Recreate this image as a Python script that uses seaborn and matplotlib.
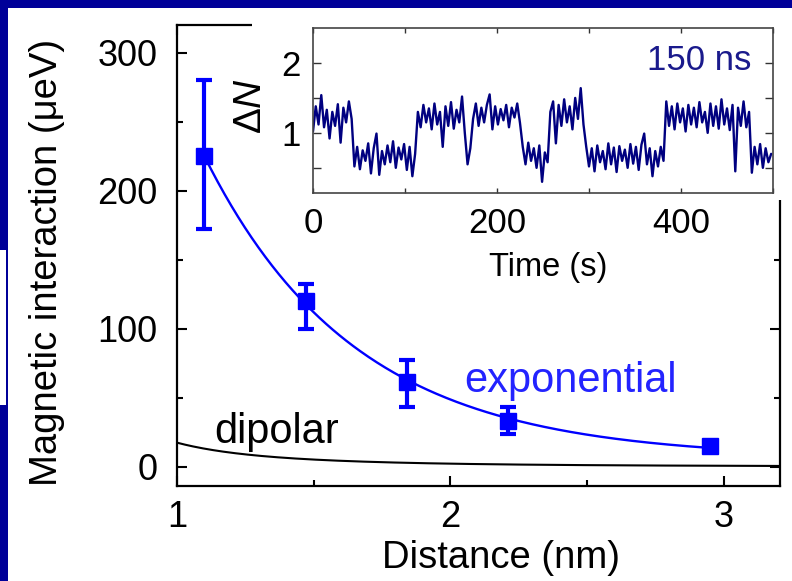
import numpy as np
import matplotlib
matplotlib.use("Agg")
import matplotlib.pyplot as plt
import seaborn as sns
from matplotlib.patches import Rectangle

# ---------------- data ----------------
distance_nm = [1.10, 1.47, 1.84, 2.21, 2.95]
interaction_ueV = [225, 120, 61, 33, 15]
err_low = [53, 20, 18, 9, 3]
err_high = [55, 12, 16, 10, 3]

# exponential fit parameters: y = A*exp(-(x-x0)/lam) + c
fit_A, fit_x0, fit_lam, fit_c = 219.0, 1.10, 0.55, 6.0
fit_range = (1.10, 2.95)
# dipolar curve: y = B / x^3
dip_B = 17.4
dip_range = (1.0, 3.2)

# inset telegraph trace (Delta N vs time, sampled every 3 s)
trace_step_s = 3
trace_dn = [
    # high 0-42
    1.02, 1.38, 1.12, 1.54, 1.08, 1.33, 0.92, 1.30, 1.10, 1.41, 0.86, 1.36, 1.15, 1.45, 1.20,
    # low 45-111
    0.52, 0.80, 0.48, 0.75, 0.60, 0.85, 0.42, 0.78, 0.99, 0.40, 0.74, 0.55, 0.82, 0.58, 0.88,
    0.50, 0.79, 0.62, 0.84, 0.47, 0.80, 0.38, 0.70,
    # high 114-165
    1.30, 1.08, 1.40, 1.15, 1.35, 1.05, 1.42, 1.12, 1.30, 0.80, 1.38, 1.10, 1.44, 1.06, 1.33,
    1.15, 1.52, 1.00,
    # low dip 168-171
    0.55, 0.78,
    # high 174-225
    1.20, 1.42, 1.10, 1.36, 1.15, 1.40, 1.55, 1.05, 1.38, 1.12, 1.34, 1.18, 1.40, 1.08, 1.36,
    1.22, 1.42, 1.14,
    # low 228-255
    0.80, 0.55, 0.86, 0.60, 0.78, 0.50, 0.82, 0.30, 0.72, 0.58,
    # high 258-294
    1.30, 1.45, 0.85, 1.40, 1.10, 1.48, 1.15, 1.38, 1.05, 1.50, 1.20, 1.64, 1.12,
    # low 297-381
    0.80, 0.52, 0.78, 0.45, 0.82, 0.58, 0.74, 0.48, 0.85, 0.55, 0.79, 0.44, 0.81, 0.60, 0.76,
    0.50, 0.84, 0.56, 0.80, 0.47, 0.83, 0.99, 0.55, 0.78, 0.38, 0.74, 0.52, 0.80, 0.60,
    # high 384-474
    1.45, 1.10, 1.38, 1.05, 1.42, 1.15, 1.35, 1.02, 1.40, 1.12, 1.36, 1.08, 1.44, 1.15, 1.30,
    1.00, 1.42, 1.10, 1.38, 1.06, 1.48, 1.12, 1.35, 1.04, 1.40, 0.45, 1.36, 1.10, 1.45, 1.08,
    1.30,
    # low 477-498
    0.43, 0.80, 0.55, 0.84, 0.50, 0.78, 0.58, 0.70,
]
trace_t = np.arange(len(trace_dn)) * trace_step_s

main_xticks = [1, 2, 3]
main_yticks = [0, 100, 200, 300]
inset_xticks = [0, 100, 200, 300, 400, 500]
inset_xlabels = ["0", "", "200", "", "400", ""]
inset_yticks = [0.5, 1.0, 1.5, 2.0]
inset_ylabels = ["", "1", "", "2"]

# ---------------- style ----------------
sns.set_theme(style="ticks")
plt.rcParams["font.family"] = ["Liberation Sans", "DejaVu Sans"]
plt.rcParams["mathtext.fontset"] = "custom"
plt.rcParams["mathtext.rm"] = "Liberation Sans"
plt.rcParams["mathtext.it"] = "Liberation Sans:italic"
plt.rcParams["text.color"] = "black"
plt.rcParams["axes.labelcolor"] = "black"
plt.rcParams["xtick.color"] = "black"
plt.rcParams["ytick.color"] = "black"

NAVY = "#000099"
BLUE = "#0000ff"
W, H = 792, 581

fig = plt.figure(figsize=(W / 100, H / 100), dpi=100)
fig.patch.set_facecolor("white")

# ---------------- main axes ----------------
ax = fig.add_axes([177 / W, 1 - 486 / H, (780 - 177) / W, (486 - 25) / H])
ax.set_facecolor("white")

fx = np.linspace(fit_range[0], fit_range[1], 300)
fy = fit_A * np.exp(-(fx - fit_x0) / fit_lam) + fit_c
sns.lineplot(x=fx, y=fy, color=BLUE, lw=1.7, ax=ax, zorder=2)

dx = np.linspace(dip_range[0], dip_range[1], 300)
dy = dip_B / dx ** 3
sns.lineplot(x=dx, y=dy, color="black", lw=1.5, ax=ax, zorder=2)

ax.errorbar(distance_nm, interaction_ueV, yerr=[err_low, err_high], fmt="s",
            color=BLUE, ms=11, elinewidth=3, capsize=6, capthick=3, zorder=3)

ax.set_xlim(1, 3.205)
ax.set_ylim(-14, 320)
ax.set_xticks(main_xticks)
ax.set_xticks([1.5, 2.5], minor=True)
ax.set_yticks(main_yticks)
ax.set_yticks([50, 150, 250], minor=True)
ax.tick_params(which="both", direction="in", top=True, right=True, width=1.5)
ax.tick_params(which="major", length=7)
ax.tick_params(which="minor", length=4.5)
ax.tick_params(axis="y", labelsize=26, pad=14)
ax.tick_params(axis="x", labelsize=26, pad=10)
for s in ax.spines.values():
    s.set_linewidth(1.6)
    s.set_color("black")

ax.set_xlabel("Distance (nm)", fontsize=27.5)
ax.set_ylabel("Magnetic interaction (μeV)", fontsize=27.5)
ax.xaxis.set_label_coords(0.538, -0.118)
ax.yaxis.set_label_coords(-0.186, 0.485)

ax.text(1.135, 17.4, "dipolar", fontsize=30, color="black", ha="left", va="baseline")
ax.text(2.05, 54, "exponential", fontsize=30, color="#2323ff", ha="left", va="baseline")

# white panel behind the inset (covers main frame)
fig.patches.append(Rectangle((252 / W, 1 - 200 / H), 1 - 252 / W, 200 / H,
                             transform=fig.transFigure, facecolor="white",
                             edgecolor="none", zorder=1))

# ---------------- inset ----------------
ax2 = fig.add_axes([313 / W, 1 - 193 / H, (773 - 313) / W, (193 - 28) / H], zorder=2)
ax2.set_facecolor("white")
sns.lineplot(x=trace_t, y=trace_dn, color="#000080", lw=1.7, ax=ax2, sort=False)
ax2.set_xlim(0, 500)
ax2.set_ylim(0.14, 2.5)
ax2.set_xticks(inset_xticks)
ax2.set_xticklabels(inset_xlabels)
ax2.set_yticks(inset_yticks)
ax2.set_yticklabels(inset_ylabels)
ax2.tick_params(which="both", direction="in", top=True, right=True, width=1.0,
                color="#333333")
ax2.tick_params(axis="x", length=3.5, labelsize=25, pad=10)
ax2.tick_params(axis="y", length=6, labelsize=25, pad=9)
for s in ax2.spines.values():
    s.set_linewidth(1.2)
    s.set_color("#444444")
ax2.set_xlabel("Time (s)", fontsize=23.5)
ax2.set_ylabel(r"$\Delta N$", fontsize=28)
ax2.xaxis.set_label_coords(0.511, -0.355)
ax2.yaxis.set_label_coords(-0.095, 0.53)
ax2.text(477, 1.9, "150 ns", fontsize=25, color="#1a1a8c", ha="right", va="baseline")

# ---------------- navy frame ----------------
fig.patches.append(Rectangle((0, 1 - 8 / H), 1, 8 / H, transform=fig.transFigure,
                             facecolor=NAVY, edgecolor="none", zorder=10))
fig.patches.append(Rectangle((0, 0), 8 / W, 1, transform=fig.transFigure,
                             facecolor=NAVY, edgecolor="none", zorder=10))
fig.patches.append(Rectangle((0, 1 - 405 / H), 6 / W, (405 - 250) / H,
                             transform=fig.transFigure, facecolor="white",
                             edgecolor="none", zorder=11))

fig.savefig("out.png", dpi=100, facecolor=fig.get_facecolor())
